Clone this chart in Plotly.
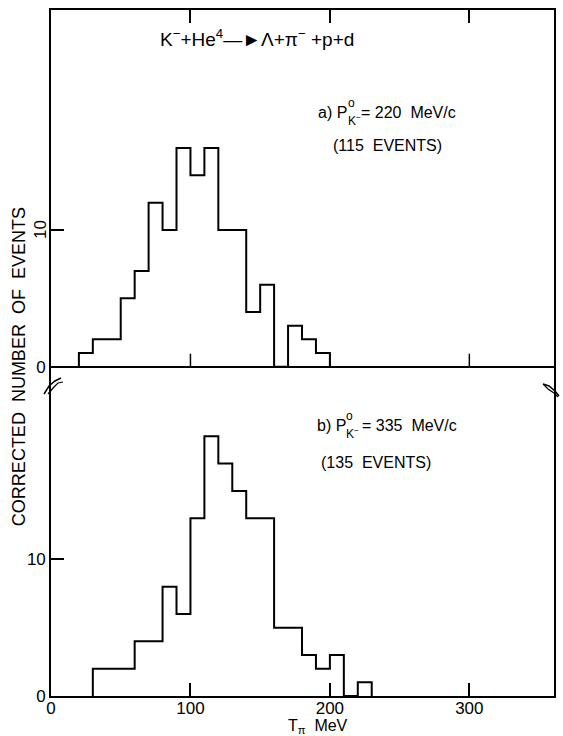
import plotly.graph_objects as go

# ---- data ----
top_edges = [20, 30, 40, 50, 60, 70, 80, 90, 100, 110, 120, 130, 140, 150, 160, 170, 180, 190, 200]
top_counts = [1, 2, 2, 5, 7, 12, 10, 16, 14, 16, 10, 10, 4, 6, 0, 3, 2, 1]
bot_edges = [30, 40, 50, 60, 70, 80, 90, 100, 110, 120, 130, 140, 150, 160, 170, 180, 190, 200, 210, 220, 230]
bot_counts = [2, 2, 2, 4, 4, 8, 6, 13, 19, 17, 15, 13, 13, 5, 5, 3, 2, 3, 0, 1]
x_tickvals = [0, 100, 200, 300]
x_ticktext = ["0", "100", "200", "300"]
y_tickvals = [0, 10]

W, H = 563, 736
L, R, T, B = 51, 556, 10, 696
PW, PH = R - L, B - T
BRK = 390
PPE = 13.67  # px per event
ZERO_TOP = 366.7
XMAX = (R - L) / 1.40

FONT = "Liberation Sans, DejaVu Sans, Arial, sans-serif"


def px(x, y):
    return (x - L) / PW, (B - y) / PH


def step(edges, counts):
    xs = [edges[0]] + list(edges)
    ys = [0] + list(counts) + [0]
    return xs, ys


fig = go.Figure()
xs, ys = step(top_edges, top_counts)
fig.add_trace(go.Scatter(x=xs, y=ys, mode="lines", line=dict(shape="hv", color="black", width=2),
                         xaxis="x2", yaxis="y2", showlegend=False, hoverinfo="skip"))
xs, ys = step(bot_edges, bot_counts)
fig.add_trace(go.Scatter(x=xs, y=ys, mode="lines", line=dict(shape="hv", color="black", width=2),
                         xaxis="x", yaxis="y", showlegend=False, hoverinfo="skip"))

dom_split = (B - BRK) / PH
axis_common = dict(showline=True, linecolor="black", linewidth=1.6, showgrid=False,
                   ticks="inside", ticklen=13, tickwidth=1.5, tickcolor="black",
                   tickfont=dict(family=FONT, size=17, color="black"))

fig.update_layout(
    width=W, height=H,
    margin=dict(l=L, r=W - R, t=T, b=H - B),
    paper_bgcolor="white", plot_bgcolor="white",
    showlegend=False,
    xaxis=dict(axis_common, range=[0, XMAX], tickvals=x_tickvals, ticktext=x_ticktext,
               zeroline=False, anchor="y", mirror=False, ticklabelstandoff=-4),
    xaxis2=dict(axis_common, range=[0, XMAX], tickvals=[100, 200, 300], showticklabels=False,
                zeroline=False, anchor="y2", side="top", matches="x", mirror=False),
    yaxis=dict(axis_common, domain=[0, dom_split], range=[0, (B - BRK) / PPE],
               tickvals=y_tickvals, zeroline=False, mirror=True),
    yaxis2=dict(axis_common, domain=[dom_split, 1],
                range=[-(BRK - ZERO_TOP) / PPE, (ZERO_TOP - T) / PPE],
                tickvals=y_tickvals, ticktext=["0", ""], zeroline=True,
                zerolinecolor="black", zerolinewidth=1.6, mirror=True),
)

shapes = []
# ticks on the top panel's baseline
for v in [100, 200, 300]:
    shapes.append(dict(type="line", xref="x2", yref="y2", x0=v, x1=v, y0=0, y1=13 / PPE,
                       line=dict(color="black", width=1.5)))


def path(points):
    s = ""
    for i, (x, y) in enumerate(points):
        a, b = px(x, y)
        s += ("M" if i == 0 else "L") + f"{a:.5f},{b:.5f} "
    return s


# axis break marks
shapes.append(dict(type="path", xref="paper", yref="paper",
                   path=path([(44, 394), (49, 386), (55, 381), (61, 378)]),
                   line=dict(color="black", width=1.5)))
shapes.append(dict(type="path", xref="paper", yref="paper",
                   path=path([(48, 394), (54, 387), (58, 383), (63, 382)]),
                   line=dict(color="black", width=1.2)))
shapes.append(dict(type="path", xref="paper", yref="paper",
                   path=path([(545, 384), (551, 386), (557, 391), (561, 396)]),
                   line=dict(color="black", width=1.5)))
shapes.append(dict(type="path", xref="paper", yref="paper",
                   path=path([(545, 384), (550, 389), (556, 393), (560, 397)]),
                   line=dict(color="black", width=1.2)))
fig.update_layout(shapes=shapes)

ann = []


def text(x, y, s, size=16, anchor="left", angle=0):
    a, b = px(x, y)
    ann.append(dict(xref="paper", yref="paper", x=a, y=b, text=s, showarrow=False,
                    xanchor=anchor, yanchor="middle", textangle=angle,
                    font=dict(family=FONT, size=size, color="black")))


# title reaction
text(258, 38, "K<sup>−</sup>+He<sup>4</sup>—►Λ+π<sup>−</sup> +p+d", size=19, anchor="center")

# panel a
text(317, 112, "a) P", 16)
text(347, 103, "o", 12)
text(347, 120, "K<sup>−</sup>", 12)
text(360, 112, "= 220  MeV/c", 16)
text(332, 145, "(115  EVENTS)", 16)

# panel b
text(316, 425, "b) P", 16)
text(345, 416, "o", 12)
text(345, 433, "K<sup>−</sup>", 12)
text(361, 425, "= 335  MeV/c", 16)
text(320, 462, "(135  EVENTS)", 16)

# rotated tick label on top panel
text(40, 230, "10", 17, anchor="center", angle=-90)

# axis titles
text(19, 367, "CORRECTED  NUMBER  OF  EVENTS", 18, anchor="center", angle=-90)
text(319, 726, "T<sub>π</sub>  MeV", 16, anchor="center")

fig.update_layout(annotations=ann)
fig.write_html("out.html")
